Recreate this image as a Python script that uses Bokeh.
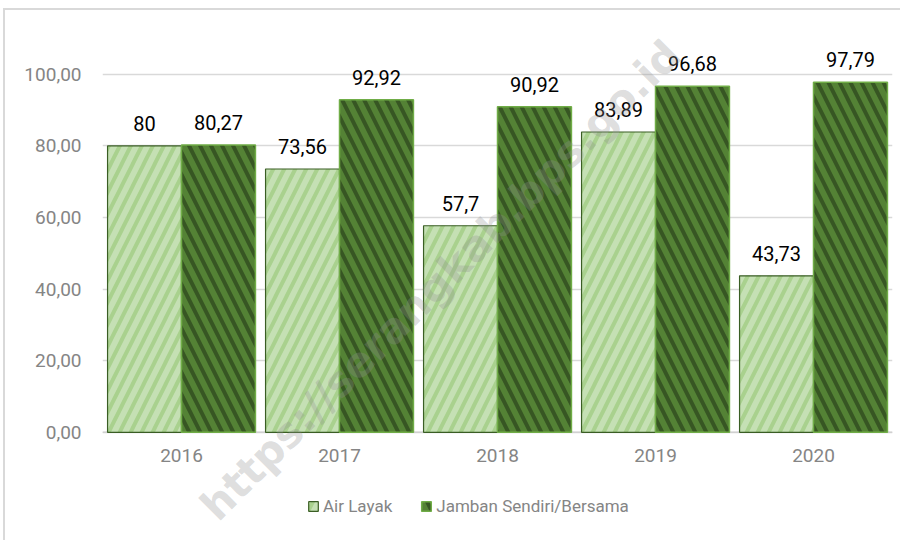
from bokeh.plotting import figure
from bokeh.models import ColumnDataSource, FactorRange, Legend, LegendItem, Label, CustomJSTickFormatter, FixedTicker, Span
from bokeh.transform import dodge
from bokeh.core.properties import value
from bokeh.embed import file_html
from bokeh.resources import INLINE

years = ["2016", "2017", "2018", "2019", "2020"]
air_layak = [80, 73.56, 57.7, 83.89, 43.73]
jamban = [80.27, 92.92, 90.92, 96.68, 97.79]
series_names = ["Air Layak", "Jamban Sendiri/Bersama"]
y_ticks = [0, 20, 40, 60, 80, 100]
watermark = "https://serangkab.bps.go.id"

def fmt(v):
    return f"{v:g}".replace(".", ",")

src = ColumnDataSource(dict(
    year=years, air=air_layak, jam=jamban, base=[0] * len(years),
    air_lbl=[fmt(v) for v in air_layak], jam_lbl=[fmt(v) for v in jamban],
))

FONT = "Roboto"
GRAY = "#858585"
p = figure(width=900, height=540, x_range=FactorRange(*years), y_range=(-30.2, 110),
           output_backend="svg", toolbar_location=None,
           min_border_left=97, min_border_right=13, min_border_top=28, min_border_bottom=10)
p.styles = {"border-top": "2px solid #d9d9d9", "border-left": "2px solid #d9d9d9",
            "margin-left": "3px", "margin-top": "8px"}
p.outline_line_color = None
p.background_fill_color = "white"
p.border_fill_color = "white"
p.xaxis.visible = False

p.xgrid.grid_line_color = None
p.ygrid.ticker = FixedTicker(ticks=y_ticks)
p.ygrid.grid_line_color = "#d9d9d9"
p.ygrid.grid_line_width = 1.5

p.add_layout(Span(location=0, dimension="width", line_color="#d0d0d0", line_width=1.5, level="underlay"))

W = 0.468
r1 = p.vbar(x=dodge("year", -W / 2, range=p.x_range), top="air", width=W, source=src,
            fill_color="#c5e0b4", line_color="#3a5e24", line_width=1.2,
            hatch_pattern="/", hatch_color="#a9d18e", hatch_scale=22, hatch_weight=4)
r2 = p.vbar(x=dodge("year", W / 2, range=p.x_range), top="jam", width=W, source=src,
            fill_color="#548235", line_color="#70ad47", line_width=1.5,
            hatch_pattern="\\", hatch_color="#375623", hatch_scale=22, hatch_weight=4)

p.text(x=dodge("year", -W / 2, range=p.x_range), y="air", text="air_lbl", source=src,
       text_align="center", text_baseline="bottom", y_offset=-15,
       text_font=value(FONT), text_font_size="20px", text_color="black")
p.text(x=dodge("year", W / 2, range=p.x_range), y="jam", text="jam_lbl", source=src,
       text_align="center", text_baseline="bottom", y_offset=-15,
       text_font=value(FONT), text_font_size="20px", text_color="black")

# category labels (x axis)
p.text(x="year", y="base", text="year", source=src, text_align="center", text_baseline="top",
       y_offset=17, text_font=value(FONT), text_font_size="19px", text_color=GRAY)

p.yaxis.ticker = FixedTicker(ticks=y_ticks)
p.yaxis.formatter = CustomJSTickFormatter(code="return tick.toFixed(2).replace('.', ',');")
p.yaxis.axis_line_color = None
p.yaxis.major_tick_line_color = None
p.yaxis.minor_tick_line_color = None
p.yaxis.major_label_standoff = 15
p.yaxis.major_label_text_font = FONT
p.yaxis.major_label_text_font_size = "19px"
p.yaxis.major_label_text_color = GRAY

legend = Legend(items=[LegendItem(label=series_names[0], renderers=[r1]),
                       LegendItem(label=series_names[1], renderers=[r2])],
                location=(205, 24), orientation="horizontal",
                label_text_font=FONT, label_text_font_size="17px", label_text_color=GRAY,
                glyph_width=12, glyph_height=12, label_standoff=4, spacing=28,
                padding=0, margin=0, border_line_alpha=0, background_fill_alpha=0)
p.add_layout(legend, "center")

wm = Label(x=2.14, y=42.5, text=watermark, angle=45, angle_units="deg",
           text_align="center", text_baseline="middle", text_font="DejaVu Sans",
           text_font_style="bold", text_font_size="42px", text_color="#909090", text_alpha=0.3)
p.add_layout(wm)

open("out.html", "w").write(file_html(p, INLINE))
